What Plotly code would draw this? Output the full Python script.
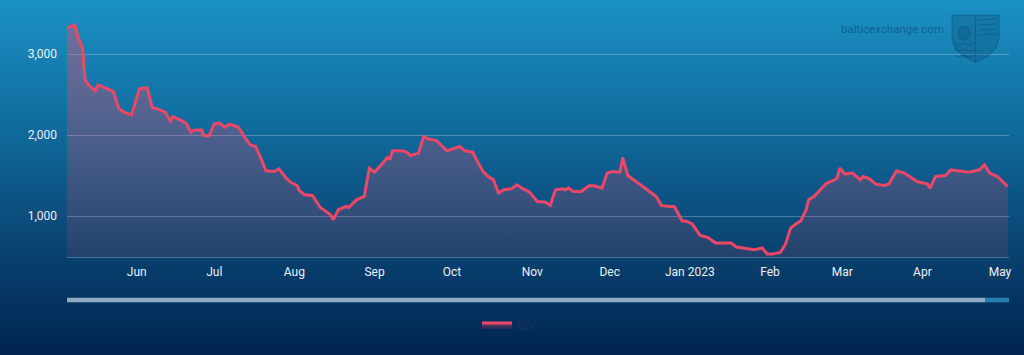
import base64, struct, zlib
import plotly.graph_objects as go

# ---------------- data ----------------
dates = [
    "2022-05-05", "2022-05-08", "2022-05-09", "2022-05-11", "2022-05-12", "2022-05-14", "2022-05-16",
    "2022-05-17", "2022-05-20", "2022-05-23", "2022-05-25", "2022-05-27", "2022-05-30", "2022-06-02",
    "2022-06-05", "2022-06-07", "2022-06-09", "2022-06-12", "2022-06-14", "2022-06-15", "2022-06-18",
    "2022-06-20", "2022-06-22", "2022-06-23", "2022-06-26", "2022-06-27", "2022-06-29", "2022-07-01",
    "2022-07-03", "2022-07-05", "2022-07-07", "2022-07-10", "2022-07-11", "2022-07-13", "2022-07-15",
    "2022-07-17", "2022-07-19", "2022-07-21", "2022-07-24", "2022-07-26", "2022-07-29", "2022-07-31",
    "2022-08-02", "2022-08-03", "2022-08-05", "2022-08-08", "2022-08-11", "2022-08-13", "2022-08-15",
    "2022-08-16", "2022-08-18", "2022-08-21", "2022-08-22", "2022-08-25", "2022-08-28", "2022-08-30",
    "2022-09-01", "2022-09-04", "2022-09-06", "2022-09-07", "2022-09-08", "2022-09-11", "2022-09-13",
    "2022-09-15", "2022-09-18", "2022-09-20", "2022-09-22", "2022-09-25", "2022-09-27", "2022-09-29",
    "2022-10-01", "2022-10-04", "2022-10-06", "2022-10-09", "2022-10-10", "2022-10-13", "2022-10-15",
    "2022-10-17", "2022-10-19", "2022-10-21", "2022-10-24", "2022-10-26", "2022-10-28", "2022-10-31",
    "2022-11-03", "2022-11-06", "2022-11-08", "2022-11-10", "2022-11-13", "2022-11-14", "2022-11-15",
    "2022-11-17", "2022-11-20", "2022-11-23", "2022-11-25", "2022-11-28", "2022-11-30", "2022-12-02",
    "2022-12-05", "2022-12-06", "2022-12-08", "2022-12-11", "2022-12-15", "2022-12-19", "2022-12-21",
    "2022-12-24", "2022-12-26", "2022-12-29", "2022-12-31", "2023-01-02", "2023-01-05", "2023-01-08",
    "2023-01-11", "2023-01-14", "2023-01-17", "2023-01-19", "2023-01-22", "2023-01-25", "2023-01-26",
    "2023-01-29", "2023-01-31", "2023-02-02", "2023-02-05", "2023-02-07", "2023-02-09", "2023-02-11",
    "2023-02-13", "2023-02-15", "2023-02-16", "2023-02-18", "2023-02-20", "2023-02-23", "2023-02-26",
    "2023-02-27", "2023-02-28", "2023-03-02", "2023-03-05", "2023-03-08", "2023-03-09", "2023-03-11",
    "2023-03-12", "2023-03-14", "2023-03-17", "2023-03-19", "2023-03-22", "2023-03-25", "2023-03-27",
    "2023-03-30", "2023-04-03", "2023-04-04", "2023-04-06", "2023-04-10", "2023-04-12", "2023-04-16",
    "2023-04-19", "2023-04-23", "2023-04-25", "2023-04-27", "2023-04-30", "2023-05-04",
]
bdi = [
    3322, 3363, 3239, 3075, 2683, 2601, 2547,
    2621, 2581, 2539, 2334, 2284, 2251, 2572,
    2588, 2341, 2325, 2284, 2177, 2230, 2186,
    2149, 2037, 2062, 2066, 1995, 1992, 2140,
    2149, 2099, 2136, 2103, 2066, 1963, 1880,
    1860, 1716, 1559, 1551, 1584, 1461, 1408,
    1378, 1312, 1263, 1254, 1106, 1057, 1016,
    954, 1078, 1119, 1106, 1201, 1242, 1593,
    1543, 1646, 1724, 1708, 1807, 1807, 1798,
    1749, 1778, 1983, 1951, 1934, 1872, 1807,
    1828, 1860, 1807, 1790, 1724, 1551, 1489,
    1448, 1284, 1325, 1337, 1387, 1346, 1296,
    1180, 1173, 1131, 1325, 1337, 1325, 1346,
    1304, 1304, 1374, 1374, 1346, 1531, 1551,
    1543, 1724, 1501, 1427, 1337, 1242, 1131,
    1119, 1119, 942, 933, 901, 760, 736,
    667, 667, 667, 617, 605, 592, 584,
    605, 531, 531, 550, 650, 852, 901,
    942, 1078, 1201, 1242, 1312, 1408, 1448,
    1469, 1593, 1519, 1531, 1448, 1489, 1469,
    1448, 1395, 1378, 1395, 1559, 1531, 1489,
    1427, 1395, 1346, 1489, 1501, 1572, 1559,
    1543, 1572, 1634, 1531, 1489, 1366,
]
month_ticks = ["2022-06-01", "2022-07-01", "2022-08-01", "2022-09-01", "2022-10-01", "2022-11-01",
               "2022-12-01", "2023-01-01", "2023-02-01", "2023-03-01", "2023-04-01", "2023-05-01"]
month_labels = ["Jun", "Jul", "Aug", "Sep", "Oct", "Nov", "Dec", "Jan 2023", "Feb", "Mar", "Apr", "May"]
y_ticks = [1000, 2000, 3000]
series_name = "BDI"

# ---------------- layout geometry ----------------
W, H = 1024, 355
L, R, T, B = 67, 15, 14, 98
PW, PH = W - L - R, H - T - B


def px(x):
    return (x - L) / PW


def py(y):
    return (H - B - y) / PH


# ---------------- background gradient image ----------------
def gradient_png(height, stops):
    rows = b""
    for yy in range(height):
        for i in range(len(stops) - 1):
            y0, c0 = stops[i]
            y1, c1 = stops[i + 1]
            if y0 <= yy <= y1:
                t = (yy - y0) / (y1 - y0)
                col = tuple(int(round(c0[k] + (c1[k] - c0[k]) * t)) for k in range(3))
                break
        rows += b"\x00" + bytes(col) * 2

    def chunk(tag, data):
        return struct.pack(">I", len(data)) + tag + data + struct.pack(">I", zlib.crc32(tag + data) & 0xffffffff)

    png = b"\x89PNG\r\n\x1a\n"
    png += chunk(b"IHDR", struct.pack(">IIBBBBB", 2, height, 8, 2, 0, 0, 0))
    png += chunk(b"IDAT", zlib.compress(rows, 9))
    png += chunk(b"IEND", b"")
    return "data:image/png;base64," + base64.b64encode(png).decode()


bg_src = gradient_png(H, [(0, (27, 145, 196)), (130, (16, 106, 156)), (257, (8, 64, 110)), (355, (1, 36, 80))])

line_color = "#ec4766"
grid_color = "rgba(200,225,245,0.33)"
font_family = "Roboto, 'Open Sans', sans-serif"
label_color = "#eaf1f8"

fig = go.Figure()
fig.add_trace(go.Scatter(
    x=dates, y=bdi, name=series_name, mode="lines",
    line=dict(color=line_color, width=3),
    fill="tozeroy",
    fillgradient=dict(type="vertical",
                      colorscale=[[0, "rgba(236,71,102,0.12)"], [1, "rgba(236,71,102,0.42)"]],
                      start=494, stop=3380),
))

shapes = []
# scrollbar
shapes.append(dict(type="rect", xref="paper", yref="paper", x0=px(985), x1=px(1009), y0=py(302.3), y1=py(297.7),
                   fillcolor="rgba(40,128,178,1)", line=dict(width=0), layer="above"))
shapes.append(dict(type="rect", xref="paper", yref="paper", x0=px(67), x1=px(985), y0=py(302.3), y1=py(297.7),
                   fillcolor="rgba(145,170,196,1)", line=dict(width=0), layer="above"))


# watermark shield (decoration)
def ppath(points, close=True):
    s = "M" + " L".join(f"{px(a):.5f},{py(b):.5f}" for a, b in points)
    return s + (" Z" if close else "")


shield = [(952, 15), (999, 15), (999, 38), (996, 48), (988, 56), (975.5, 62), (963, 56), (955, 48), (952, 38)]
shapes.append(dict(type="path", xref="paper", yref="paper", path=ppath(shield),
                   fillcolor="rgba(10,75,120,0.30)", line=dict(color="rgba(10,65,105,0.35)", width=1.2)))
shapes.append(dict(type="path", xref="paper", yref="paper", path=ppath([(975.5, 15), (975.5, 62)], False),
                   line=dict(color="rgba(10,65,105,0.35)", width=1.2)))
for yy in (44, 50, 56):
    shapes.append(dict(type="path", xref="paper", yref="paper",
                       path=ppath([(954, yy - 1), (959, yy + 1), (964, yy - 1), (969, yy + 1), (975, yy - 1)], False),
                       line=dict(color="rgba(10,65,105,0.35)", width=1.2)))
for yy in (20, 25, 30, 35):
    shapes.append(dict(type="path", xref="paper", yref="paper", path=ppath([(978, yy), (997, yy - 1)], False),
                       line=dict(color="rgba(10,65,105,0.35)", width=1.2)))
shapes.append(dict(type="circle", xref="paper", yref="paper", x0=px(958), x1=px(970), y0=py(40), y1=py(26),
                   fillcolor="rgba(10,70,115,0.25)", line=dict(color="rgba(10,65,105,0.35)", width=1)))

fig.update_layout(
    width=W, height=H,
    margin=dict(l=L, r=R, t=T, b=B, pad=0),
    paper_bgcolor="rgb(8,64,110)",
    plot_bgcolor="rgba(0,0,0,0)",
    font=dict(family=font_family, size=12, color=label_color),
    images=[dict(source=bg_src, xref="paper", yref="paper", x=px(0), y=py(0),
                 sizex=W / PW, sizey=H / PH, xanchor="left", yanchor="top",
                 sizing="stretch", layer="below")],
    shapes=shapes,
    annotations=[dict(text="balticexchange.com", xref="paper", yref="paper", x=px(892), y=py(29),
                      xanchor="center", yanchor="middle", showarrow=False,
                      font=dict(family=font_family, size=11.5, color="rgba(0,45,85,0.45)"))],
    xaxis=dict(
        type="date", range=["2022-05-05", "2023-05-04 12:00"],
        tickvals=month_ticks, ticktext=month_labels,
        showgrid=False, zeroline=False, ticks="",
        showline=True, linecolor=grid_color, linewidth=1,
        ticklabelstandoff=4,
        tickfont=dict(size=12, color=label_color),
        fixedrange=True,
    ),
    yaxis=dict(
        range=[494, 3498], tickvals=y_ticks, tickformat=",",
        showgrid=True, gridcolor=grid_color, gridwidth=1,
        zeroline=False, ticks="", showline=False,
        ticklabelstandoff=9,
        tickfont=dict(size=12, color=label_color),
        fixedrange=True,
    ),
    showlegend=True,
    legend=dict(orientation="h", x=px(477), y=py(325), xanchor="left", yanchor="middle",
                bgcolor="rgba(0,0,0,0)", font=dict(size=12, color="#16355f"),
                itemwidth=30),
    hovermode=False,
)

fig.write_html("out.html")
